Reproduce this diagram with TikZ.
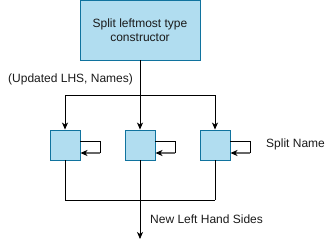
\documentclass[tikz,border=0pt]{standalone}
\usepackage{fontspec}
\setmainfont{Liberation Sans}
\usetikzlibrary{arrows.meta,positioning}
\definecolor{boxfill}{HTML}{B1DDF0}
\definecolor{boxline}{HTML}{10739E}
\definecolor{ink}{HTML}{1A1A1A}
\definecolor{loopgray}{HTML}{666666}
\tikzset{
    every picture/.style={line join=miter},
    stagebox/.style={draw=boxline,fill=boxfill,line width=0.9pt,
      minimum width=120pt,minimum height=60pt,inner sep=2pt,
      align=center,font=\fontsize{12}{14}\selectfont,text=ink},
    splitbox/.style={draw=boxline,fill=boxfill,line width=0.9pt,
      minimum size=30pt,inner sep=0pt},
    wire/.style={draw=black,line width=0.8pt},
    flowarrow/.style={-{Stealth[length=7pt,width=6pt,inset=2pt]},draw=black,
      line width=0.8pt},
    looparrow/.style={-{Stealth[length=7pt,width=6pt,inset=2pt,black]},
      draw=loopgray,line width=1.4pt},
    plainlabel/.style={font=\fontsize{12}{14}\selectfont,text=ink,inner sep=0pt}
}
\begin{document}
\begin{tikzpicture}[x=1pt,y=-1pt]
  \useasboundingbox (0,0) rectangle (331,249);
  \node[stagebox] (split) at (140,30) {Split leftmost type\\constructor};
  % fan out to the three split steps
  \coordinate (fork) at (140,95);
  \coordinate (forkL) at (65,95);
  \coordinate (forkR) at (215,95);
  \coordinate (join) at (140,200);
  \coordinate (joinL) at (65,200);
  \coordinate (joinR) at (215,200);
  \coordinate (out) at (140,239);
  \draw[wire] (split.south) -- (fork);
  \draw[wire] (forkL) -- (forkR);
  \foreach \i/\x in {1/65,2/140,3/215} {
    \node[splitbox] (s\i) at (\x,145) {};
    \coordinate (top\i) at (\x,95);
    \draw[flowarrow] (top\i) -- (s\i.north);
    \draw[wire] (s\i.south) -- (\x,200);
    % self loop on each step
    \draw[wire] ([shift={(0,-4)}]s\i.east) -- ++(20,0) -- ++(0,12) coordinate (turn\i);
    \draw[looparrow] (turn\i) -- ([shift={(0,8)}]s\i.east);
  }
  \draw[wire] (joinL) -- (joinR);
  \draw[flowarrow] (join) -- (out);
  \node[plainlabel,anchor=west] (lhs) at (8,79) {(Updated LHS, Names)};
  \node[plainlabel,anchor=west] (name) at (266,144) {Split Name};
  \node[plainlabel,anchor=west] (newlhs) at (150,219) {New Left Hand Sides};
\end{tikzpicture}
\end{document}
